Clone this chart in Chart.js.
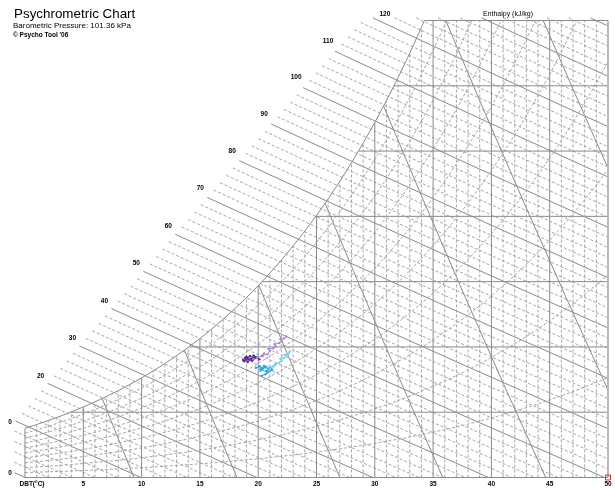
<!DOCTYPE html>
<html>
<head>
<meta charset="utf-8">
<title>Psychrometric Chart</title>
<script src="https://cdn.jsdelivr.net/npm/chart.js@4.4.1/dist/chart.umd.min.js"></script>
<style>
  html, body { margin: 0; padding: 0; background: #fff; }
  #chart { display: block; }
</style>
</head>
<body>
<canvas id="chart" width="615" height="489"></canvas>
<script>
const pressure = 101.36; // kPa

// saturation vapour pressure over water (kPa), index = dry bulb in °C
const satPressures = [
  0.6112, 0.6571, 0.7060, 0.7580, 0.8135, 0.8725, 0.9353, 1.0020, 1.0728, 1.1481,
  1.2280, 1.3127, 1.4026, 1.4979, 1.5987, 1.7055, 1.8185, 1.9380, 2.0643, 2.1978,
  2.3388, 2.4877, 2.6447, 2.8104, 2.9850, 3.1690, 3.3629, 3.5670, 3.7818, 4.0078,
  4.2455, 4.4953, 4.7578, 5.0335, 5.3229, 5.6267, 5.9453, 6.2795, 6.6298, 6.9969,
  7.3814, 7.7840, 8.2054, 8.6463, 9.1075, 9.5898, 10.094, 10.620, 11.171, 11.745,
  12.344
];

const dbtTicks = [5, 10, 15, 20, 25, 30, 35, 40, 45, 50];
const humidityLines = [5, 10, 15, 20, 25, 30];          // g/kg
const rhLevels = [10, 20, 30, 40, 50, 60, 70, 80, 90];  // %
const volumeLevels = [0.8, 0.825, 0.85, 0.875, 0.9, 0.925, 0.95]; // m3/kg
const enthalpyLevels = [0, 10, 20, 30, 40, 50, 60, 70, 80, 90, 100, 110, 120];
const enthalpyLabels = ['0', '0', '20', '30', '40', '50', '60', '70', '80', '90', '100', '110', '120'];

// logged room readings (dry bulb °C, humidity ratio g/kg)
const purpleCoreT = [18.7, 18.9, 19.2, 18.8, 19.0, 19.4, 19.1, 19.6, 19.3, 18.9, 19.5, 19.8, 19.6, 19.9, 20.1];
const purpleCoreW = [9.0, 9.2, 9.05, 8.9, 9.25, 9.1, 8.85, 9.2, 9.3, 9.1, 8.95, 9.15, 9.35, 9.2, 9.05];
const purpleTrailT = [19.9, 20.3, 20.5, 20.4, 20.8, 21.0, 20.9, 21.3, 21.5, 21.4, 21.8, 22.0, 21.9, 22.2, 22.4];
const purpleTrailW = [9.15, 9.3, 9.5, 9.35, 9.45, 9.7, 9.85, 9.9, 10.05, 10.2, 10.3, 10.45, 10.6, 10.65, 10.8];
const cyanCoreT = [19.8, 20.1, 20.4, 20.2, 20.6, 20.9, 20.7, 21.1, 20.5, 20.2, 20.8, 21.2, 20.6, 20.3];
const cyanCoreW = [8.4, 8.5, 8.35, 8.2, 8.45, 8.3, 8.15, 8.4, 8.55, 8.3, 8.05, 8.25, 7.9, 7.8];
const cyanTrailT = [21.0, 21.3, 21.5, 21.4, 21.8, 22.0, 21.9, 22.2, 22.4, 22.3, 22.6, 22.7];
const cyanTrailW = [8.35, 8.5, 8.7, 8.6, 8.8, 8.95, 9.1, 9.15, 9.3, 9.4, 9.5, 9.65];

const T_MAX = 50;
const W_TOP = 35;

const SOLID = '#8a8a8a';
const DASHED = '#a6a6a6';

// --- psychrometric helpers ---
function pws(t) {
  t = Math.max(0, Math.min(50, t));
  const i = Math.min(49, Math.floor(t));
  const f = t - i;
  return Math.exp(Math.log(satPressures[i]) * (1 - f) + Math.log(satPressures[i + 1]) * f);
}
function wFromPw(pw) { return 622 * pw / (pressure - pw); }
function wSat(t) { return wFromPw(pws(t)); }
function wAtRh(t, rh) { return wFromPw(rh / 100 * pws(t)); }
function wAtEnthalpy(h, t) { return (h - 1.006 * t) / (2501 + 1.86 * t) * 1000; }
function tAtEnthalpy(h, w) { return (h - 2.501 * w) / (1.006 + 0.00186 * w); }
function tAtVolume(v, w) { return v * pressure / (0.287042 * (1 + 0.001607858 * w)) - 273.15; }

function solve(f, a, b) {
  let fa = f(a);
  for (let i = 0; i < 60; i++) {
    const m = (a + b) / 2;
    const fm = f(m);
    if ((fm > 0) === (fa > 0)) { a = m; fa = fm; } else { b = m; }
  }
  return (a + b) / 2;
}
function tSat(w) { return solve(t => wSat(t) - w, 0, 50); }

function line(points, solid, extra) {
  return Object.assign({
    data: points,
    showLine: true,
    borderColor: solid ? SOLID : DASHED,
    backgroundColor: 'transparent',
    borderWidth: 1,
    borderDash: solid ? [] : [3, 2],
    pointRadius: 0,
    tension: 0,
    order: 2
  }, extra || {});
}

const grid = [];

// chart frame
grid.push(line([{x: 0, y: 0}, {x: 0, y: wSat(0)}], true));
grid.push(line([{x: 0, y: 0}, {x: T_MAX, y: 0}], true));
grid.push(line([{x: tSat(W_TOP), y: W_TOP}, {x: T_MAX, y: W_TOP}], true));
grid.push(line([{x: T_MAX, y: 0}, {x: T_MAX, y: W_TOP}], true, {borderColor: '#b9b9b9', borderWidth: 2}));

// saturation curve
const satCurve = [];
for (let t = 0; t <= T_MAX; t++) {
  if (wSat(t) >= W_TOP) break;
  satCurve.push({x: t, y: wSat(t)});
}
satCurve.push({x: tSat(W_TOP), y: W_TOP});
grid.push(line(satCurve, true));

// dry bulb verticals, solid every 5 °C
for (let t = 1; t < T_MAX; t++) {
  grid.push(line([{x: t, y: 0}, {x: t, y: Math.min(wSat(t), W_TOP)}], t % 5 === 0));
}

// humidity ratio horizontals
humidityLines.forEach(w => {
  grid.push(line([{x: tSat(w), y: w}, {x: T_MAX, y: w}], true));
});

// relative humidity curves
rhLevels.forEach(rh => {
  const pts = [];
  for (let t = 0; t <= T_MAX; t++) {
    const w = wAtRh(t, rh);
    if (w > W_TOP) {
      pts.push({x: solve(tt => wAtRh(tt, rh) - W_TOP, t - 1, t), y: W_TOP});
      break;
    }
    pts.push({x: t, y: w});
  }
  grid.push(line(pts, false));
});

// specific volume lines
volumeLevels.forEach(v => {
  let wStart = 0;
  if (tAtVolume(v, 0) > T_MAX) wStart = solve(w => tAtVolume(v, w) - T_MAX, 0, 60);
  const gap = w => wSat(tAtVolume(v, w)) - w;
  const wEnd = gap(W_TOP) > 0 ? W_TOP : solve(gap, wStart, W_TOP);
  const pts = [];
  for (let k = 0; k <= 4; k++) {
    const w = wStart + (wEnd - wStart) * k / 4;
    pts.push({x: tAtVolume(v, w), y: w});
  }
  grid.push(line(pts, true));
});

// enthalpy lines run out past the saturation curve to the label edge
function edgeStart(h) { return -3.55 + 0.274 * h; }
function topStart(h) { return tAtEnthalpy(h, W_TOP + 0.2); }
function enthalpyStart(h) {
  return Math.max(edgeStart(h), -0.9, topStart(h));
}
for (let h = 0; h <= 140; h += 2) {
  const t0 = enthalpyStart(h);
  const t1 = Math.min(h / 1.006, T_MAX);
  if (t0 >= t1) continue;
  const pts = [];
  for (let k = 0; k <= 3; k++) {
    const t = t0 + (t1 - t0) * k / 3;
    pts.push({x: t, y: wAtEnthalpy(h, t)});
  }
  grid.push(line(pts, h % 10 === 0));
}

function pairs(ts, ws) { return ts.map((t, i) => ({x: t, y: ws[i]})); }
function trace(ts, ws, colour) {
  return {
    data: pairs(ts, ws),
    showLine: true,
    borderColor: colour,
    backgroundColor: colour,
    borderWidth: 1,
    pointRadius: 1.2,
    pointBorderWidth: 0,
    tension: 0,
    order: 0
  };
}

const readings = [
  trace(purpleTrailT, purpleTrailW, '#a987d2'),
  trace(purpleCoreT, purpleCoreW, '#5e2b8c'),
  trace(cyanTrailT, cyanTrailW, '#74cfee'),
  trace(cyanCoreT, cyanCoreW, '#23a3dc'),
  {
    data: [{x: T_MAX, y: 0}],
    pointStyle: 'rect',
    pointRadius: 3.5,
    borderColor: '#e02020',
    backgroundColor: 'transparent',
    borderWidth: 1,
    order: 0
  }
];

const FONT = '"Liberation Sans", Arial, sans-serif';

const chartText = {
  id: 'chartText',
  beforeDraw(chart) {
    const ctx = chart.ctx;
    ctx.save();
    ctx.fillStyle = '#fff';
    ctx.fillRect(0, 0, chart.width, chart.height);
    ctx.restore();
  },
  afterDraw(chart) {
    const ctx = chart.ctx;
    const xs = chart.scales.x;
    const ys = chart.scales.y;
    ctx.save();
    ctx.fillStyle = '#000';
    ctx.textBaseline = 'alphabetic';

    ctx.textAlign = 'left';
    ctx.font = '13.4px ' + FONT;
    ctx.fillText('Psychrometric Chart', 14, 18);
    ctx.font = '8px ' + FONT;
    ctx.fillText('Barometric Pressure: ' + pressure.toFixed(2) + ' kPa', 13, 28);
    ctx.font = 'bold 6.5px ' + FONT;
    ctx.fillText('\u00a9 Psycho Tool \'06', 13, 36.5);

    // dry bulb scale along the bottom
    ctx.textAlign = 'center';
    ctx.font = 'bold 6.5px ' + FONT;
    ctx.fillText('DBT(\u00b0C)', 32, 486);
    dbtTicks.forEach(t => {
      ctx.fillText(String(t), Math.min(xs.getPixelForValue(t), 609), 486);
    });

    // enthalpy scale
    ctx.font = 'bold 6.5px ' + FONT;
    enthalpyLevels.forEach((h, i) => {
      const t = enthalpyStart(h);
      const px = xs.getPixelForValue(t);
      const py = ys.getPixelForValue(wAtEnthalpy(h, t));
      if (h < 20) {
        ctx.fillText(enthalpyLabels[i], 10, py + 2.5);
      } else if (topStart(h) > edgeStart(h)) {
        // line cut by the top border: label sits along the edge
        ctx.fillText(enthalpyLabels[i], px + 12, py - 2);
      } else {
        ctx.fillText(enthalpyLabels[i], px - 7, py - 5 - (h - 20) * 0.04);
      }
    });
    ctx.font = '7px ' + FONT;
    ctx.fillText('Enthalpy (kJ/kg)', 508, 16);
    ctx.restore();
  }
};

new Chart(document.getElementById('chart'), {
  type: 'scatter',
  data: { datasets: readings.concat(grid) },
  options: {
    responsive: false,
    animation: false,
    events: [],
    layout: { padding: 0, autoPadding: false },
    plugins: {
      legend: { display: false },
      tooltip: { enabled: false },
      title: { display: false }
    },
    scales: {
      x: { type: 'linear', display: false, min: -2.144, max: 50.6 },
      y: { type: 'linear', display: false, min: -0.881, max: 36.57 }
    }
  },
  plugins: [chartText]
});
</script>
</body>
</html>
